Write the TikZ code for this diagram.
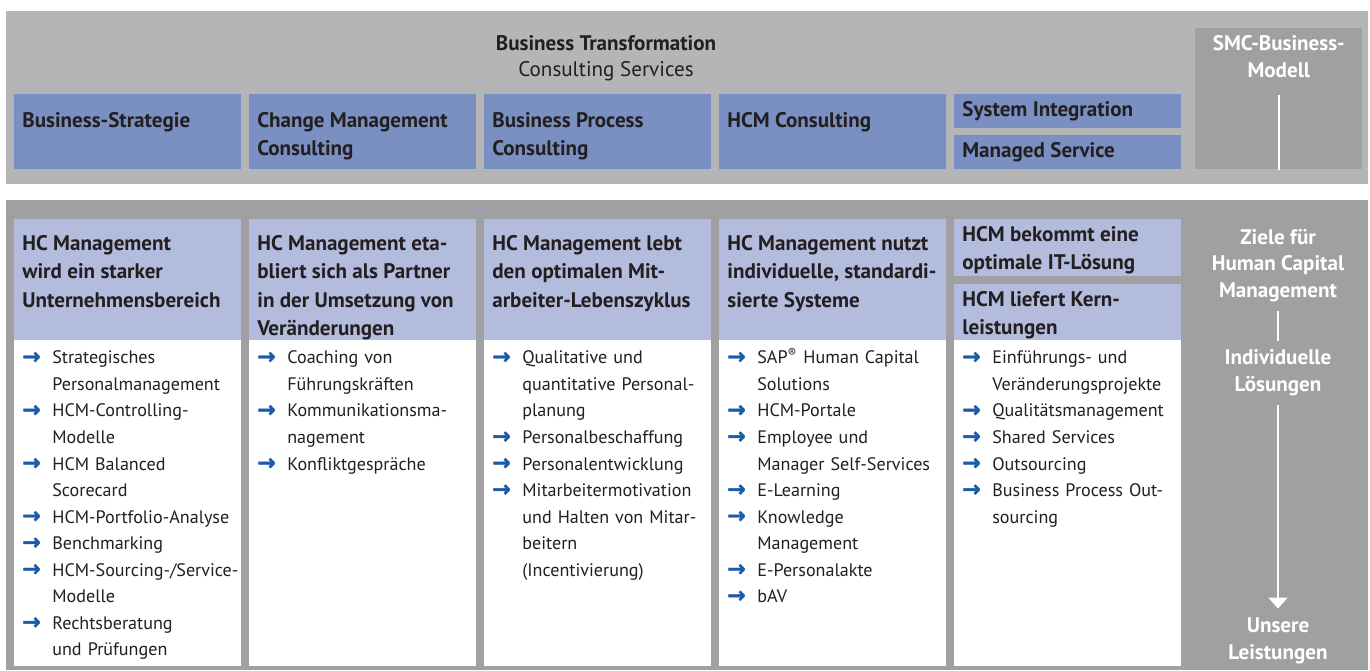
\documentclass[tikz,border=0pt]{standalone}
\usepackage{fontspec}
\setmainfont{PT Sans}
\newfontfamily\symfont[FakeBold=1.8]{DejaVu Sans Bold}
\usetikzlibrary{arrows.meta,positioning}

\definecolor{bandlight}{HTML}{B5B5B7}
\definecolor{banddark}{HTML}{A0A0A2}
\definecolor{servblue}{HTML}{7A8FC2}
\definecolor{goalblue}{HTML}{B3BCDC}
\definecolor{arrowblue}{HTML}{1C5BA8}
\definecolor{inkgray}{HTML}{231F20}

\newcommand{\hdfont}{\bfseries\fontsize{12pt}{16.2pt}\selectfont}
\newcommand{\itfont}{\fontsize{10.3pt}{15.1pt}\selectfont}
\newcommand{\brk}{\hfil\break}
\newcommand{\hcmitem}[1]{\par\noindent\hangindent=0.6cm\hangafter=1%
  \makebox[0.6cm][l]{\textcolor{arrowblue}{\symfont\fontsize{12.5pt}{12.5pt}\selectfont →}}#1\par}

\tikzset{
  band/.style={anchor=north west, inner sep=0pt, minimum width=27.24cm},
  servbox/.style={fill=servblue, anchor=north west, inner sep=0pt, minimum width=4.54cm, minimum height=1.5cm},
  goalbox/.style={fill=goalblue, anchor=north west, inner sep=0pt, minimum width=4.54cm, minimum height=2.42cm},
  listbox/.style={fill=white, anchor=north west, inner sep=0pt, minimum width=4.54cm, minimum height=6.52cm},
  boxtext/.style={anchor=north west, inner xsep=0.16cm, inner ysep=0.36cm, align=left, text=inkgray, font=\hdfont},
  smalltext/.style={boxtext, inner ysep=0.14cm},
  listtext/.style={anchor=north west, inner xsep=0.16cm, inner ysep=0.14cm, yshift=0.2cm, text width=4.6cm, align=left, text=inkgray, font=\itfont},
  sidetext/.style={text=white, font=\bfseries\fontsize{12pt}{15.3pt}\selectfont, align=center, inner sep=0.17cm},
  sideline/.style={draw=white, line width=0.9pt}
}

\begin{document}
\begin{tikzpicture}[x=0.02cm, y=-0.02cm]
\useasboundingbox (0,0) rectangle (1370,670);

% Consulting Services
\node[band, fill=bandlight, minimum height=3.46cm] (topband) at (6,11) {};
\node[text=inkgray, align=center, font=\fontsize{12pt}{15pt}\selectfont, anchor=north, inner sep=0pt] (title) at (606,35)
  {\bfseries Business Transformation\\Consulting Services};

\node[servbox] (bs) at (14,94) {};
\node[boxtext] (bst) at (bs.north west) {Business-Strategie};
\node[servbox] (cm) at (249,94) {};
\node[boxtext] (cmt) at (cm.north west) {Change Management\\Consulting};
\node[servbox] (bp) at (484,94) {};
\node[boxtext] (bpt) at (bp.north west) {Business Process\\Consulting};
\node[servbox] (hc) at (719,94) {};
\node[boxtext] (hct) at (hc.north west) {HCM Consulting};
\node[servbox, minimum height=0.68cm] (si) at (954,94) {};
\node[smalltext] (sit) at (si.north west) {System Integration};
\node[servbox, minimum height=0.68cm] (ms) at (954,135) {};
\node[smalltext] (mst) at (ms.north west) {Managed Service};

\node[fill=banddark, anchor=north west, inner sep=0pt, minimum width=3.34cm, minimum height=2.82cm] (smc) at (1195,28) {};
\node[sidetext, anchor=north, inner ysep=0.14cm] (smct) at (smc.north) {SMC-Business-\\Modell};
\path (smc.south) ++(0,-75) coordinate (smctop);
\draw[sideline] (smctop) -- (smc.south);

% Ziele und Leistungen
\node[band, fill=banddark, minimum height=9.4cm] (lowband) at (6,200) {};

\node[goalbox] (g1) at (14,219) {};
\node[boxtext, inner ysep=0.32cm] (g1t) at (g1.north west) {HC Management\\wird ein starker\\Unternehmensbereich};
\node[listbox] (l1) at (14,340) {};
\node[listtext] (l1t) at (l1.north west) {%
  \hcmitem{Strategisches\brk Personalmanagement}
  \hcmitem{HCM-Controlling-\brk Modelle}
  \hcmitem{HCM Balanced\brk Scorecard}
  \hcmitem{HCM-Portfolio-Analyse}
  \hcmitem{Benchmarking}
  \hcmitem{HCM-Sourcing-/Service-\brk Modelle}
  \hcmitem{Rechtsberatung\brk und Prüfungen}};

\node[goalbox] (g2) at (249,219) {};
\node[boxtext, inner ysep=0.32cm] (g2t) at (g2.north west) {HC Management eta-\\bliert sich als Partner\\in der Umsetzung von\\Veränderungen};
\node[listbox] (l2) at (249,340) {};
\node[listtext] (l2t) at (l2.north west) {%
  \hcmitem{Coaching von\brk Führungskräften}
  \hcmitem{Kommunikationsma-\brk nagement}
  \hcmitem{Konfliktgespräche}};

\node[goalbox] (g3) at (484,219) {};
\node[boxtext, inner ysep=0.32cm] (g3t) at (g3.north west) {HC Management lebt\\den optimalen Mit-\\arbeiter-Lebenszyklus};
\node[listbox] (l3) at (484,340) {};
\node[listtext] (l3t) at (l3.north west) {%
  \hcmitem{Qualitative und\brk quantitative Personal-\brk planung}
  \hcmitem{Personalbeschaffung}
  \hcmitem{Personalentwicklung}
  \hcmitem{Mitarbeitermotivation\brk und Halten von Mitar-\brk beitern\brk (Incentivierung)}};

\node[goalbox] (g4) at (719,219) {};
\node[boxtext, inner ysep=0.32cm] (g4t) at (g4.north west) {HC Management nutzt\\individuelle, standardi-\\sierte Systeme};
\node[listbox] (l4) at (719,340) {};
\node[listtext] (l4t) at (l4.north west) {%
  \hcmitem{SAP\textsuperscript{®} Human Capital\brk Solutions}
  \hcmitem{HCM-Portale}
  \hcmitem{Employee und\brk Manager Self-Services}
  \hcmitem{E-Learning}
  \hcmitem{Knowledge\brk Management}
  \hcmitem{E-Personalakte}
  \hcmitem{bAV}};

\node[goalbox, minimum height=1.14cm] (g5) at (954,219) {};
\node[smalltext] (g5t) at (g5.north west) {HCM bekommt eine\\optimale IT-Lösung};
\node[goalbox, minimum height=1.12cm] (g6) at (954,284) {};
\node[smalltext] (g6t) at (g6.north west) {HCM liefert Kern-\\leistungen};
\node[listbox] (l5) at (954,340) {};
\node[listtext] (l5t) at (l5.north west) {%
  \hcmitem{Einführungs- und\brk Veränderungsprojekte}
  \hcmitem{Qualitätsmanagement}
  \hcmitem{Shared Services}
  \hcmitem{Outsourcing}
  \hcmitem{Business Process Out-\brk sourcing}};

\node[sidetext, anchor=north] (ziele) at (1278,220) {Ziele für\\Human Capital\\Management};
\node[sidetext, below=0.59cm of ziele] (indiv) {Individuelle\\Lösungen};
\node[sidetext, below=4.08cm of indiv] (unsere) {Unsere\\Leistungen};
\draw[sideline] (ziele) -- (indiv);
\draw[sideline, -{Triangle[width=0.38cm,length=0.22cm]}] (indiv) -- (unsere);

\end{tikzpicture}
\end{document}
